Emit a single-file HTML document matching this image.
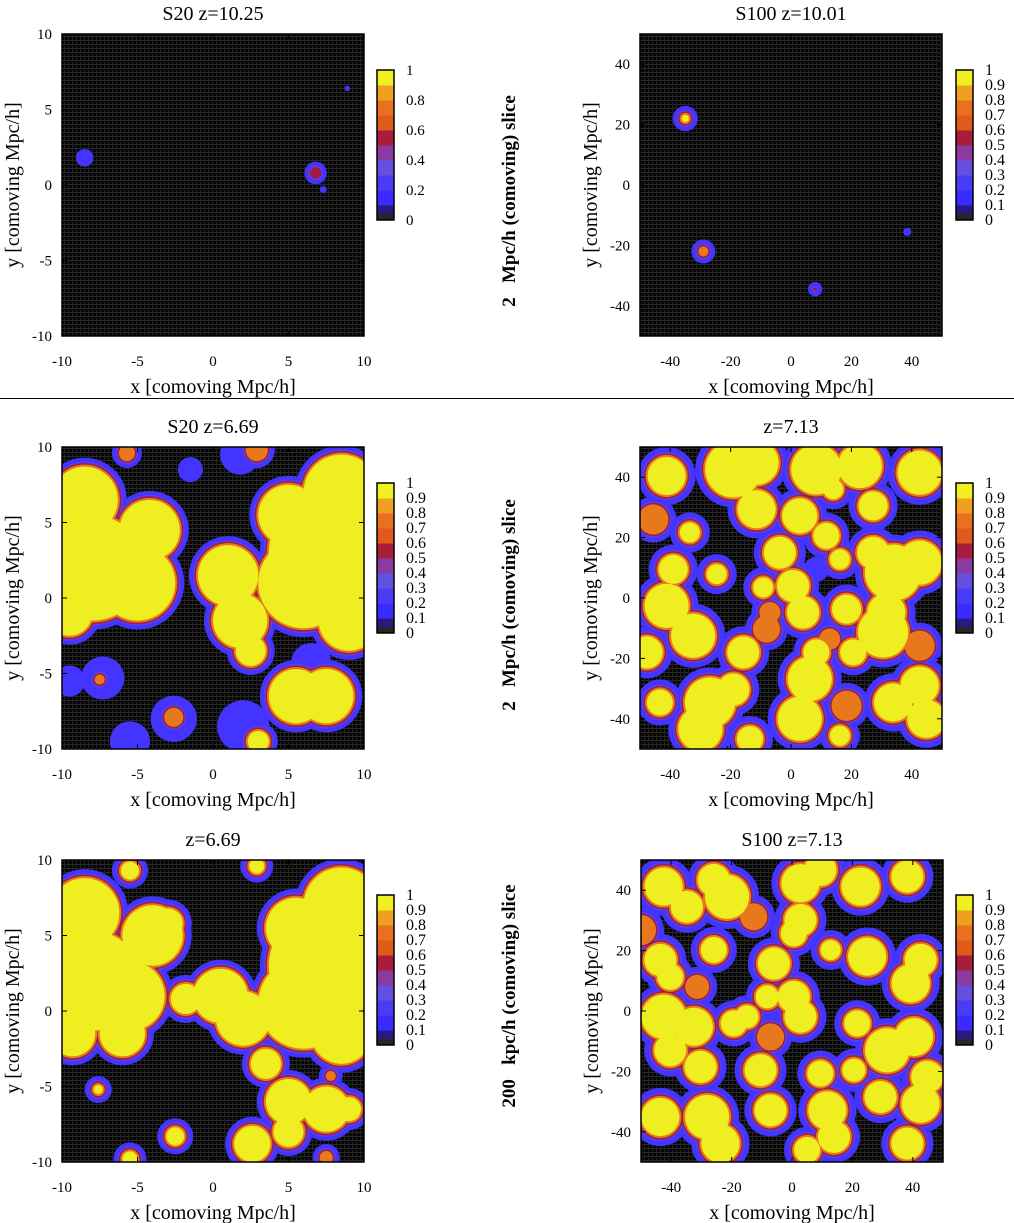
<!DOCTYPE html>
<html><head><meta charset="utf-8"><style>
html,body{margin:0;padding:0;background:#fff;}
svg{display:block;font-family:"Liberation Serif",serif;}
</style></head><body>
<svg id="fig" width="1014" height="1223" viewBox="0 0 1014 1223" xmlns="http://www.w3.org/2000/svg">
<defs>
<pattern id="grid" width="4" height="4" patternUnits="userSpaceOnUse">
<rect width="4" height="4" fill="#050505"/>
<rect x="0" y="0" width="4" height="1" fill="#2a2a2a"/>
<rect x="0" y="0" width="1" height="4" fill="#222"/>
</pattern>
</defs>
<line x1="0" y1="398.5" x2="1014" y2="398.5" stroke="#000" stroke-width="1"/>
<text transform="translate(515,201) rotate(-90)" text-anchor="middle" font-weight="bold" font-size="19" xml:space="preserve">2   Mpc/h (comoving) slice</text>
<text transform="translate(515,605) rotate(-90)" text-anchor="middle" font-weight="bold" font-size="19" xml:space="preserve">2   Mpc/h (comoving) slice</text>
<text transform="translate(515,996) rotate(-90)" text-anchor="middle" font-weight="bold" font-size="19" xml:space="preserve">200   kpc/h (comoving) slice</text>
</svg>
<script>
// ---- data: ionized bubbles (x, y, core radius, ionized fraction) ----
const s20TopX=[-8.5,6.8,7.3,8.9];
const s20TopY=[1.8,0.8,-0.3,6.4];
const s20TopR=[0.05,0.15,-0.3,-0.35];
const s20TopV=[0.25,0.55,0.2,0.2];

const s100TopX=[-35,-29,8,38.5];
const s100TopY=[22,-22,-34.5,-15.5];
const s100TopR=[1.2,1,-0.6,-1.3];
const s100TopV=[1,0.8,0.5,0.2];

const s20MidX=[-8,-5,-4.2,-8.5,-9.5,1,1.8,2.5,7.5,6,8.5,5,9,5.5,7.5,-7.3,-7.5,-2.6,-2.6,2,3,-5.7,2.9,-5.5,-9.5,6.5,1.8,-1.5];
const s20MidY=[2,1,4.5,6.5,-1,1.5,-1.5,-3.5,3,1,7,5.5,-1.5,-6.5,-6.5,-5.3,-5.4,-8,-7.9,-8.5,-9.5,9.6,9.8,-9.5,-5.5,-4.3,9.5,8.5];
const s20MidR=[3.5,2.5,2,2.2,1.5,2,1.8,1,3.8,3,2.5,2,2,1.8,1.8,0.9,0.2,1,0.5,1.2,0.7,0.4,0.6,0.8,0.5,0.8,0.8,0.3];
const s20MidV=[1,1,1,1,1,1,1,1,1,1,1,1,1,1,1,0.3,0.6,0.3,0.7,0.3,0.9,0.7,0.7,0.3,0.3,0.3,0.3,0.3];

const s20BotX=[-8,-5.5,-4,-8.5,-9.3,-6,-3,7.5,6,8.5,5.5,8.5,0.5,-1.8,2,3.5,2.9,-5.5,5,7.5,9,5,2.6,-7.6,-2.5,-5.5,7.5,7.8];
const s20BotY=[2,1,5,6.5,-1.5,-1.5,5.8,3,0.5,7,5.5,-1.5,1,0.8,-0.5,-3.5,9.6,9.3,-6,-6.5,-6.5,-8,-8.8,-5.2,-8.3,-9.8,-9.7,-4.3];
const s20BotR=[3.3,2.3,2,2.3,1.5,1.5,1,3.8,3,2.5,2,2,1.8,1,1.8,1,0.5,0.6,1.5,1.5,0.8,1,1.2,0.3,0.6,0.5,0.3,0.2];
const s20BotV=[1,1,1,1,1,1,1,1,1,1,1,1,1,1,1,1,1,1,1,1,1,1,1,0.9,0.9,0.9,0.8,0.6];

const s100MidX=[-19.1,-11.4,-41.2,8.4,22.8,42.6,-11.4,2.9,27.2,14,-45.6,-33.5,11.7,-3.7,0.7,4,-39,-24.6,-9.2,16.2,33.8,42.6,27.2,18.4,30.5,31.6,-41.2,-32.4,-47.8,-15.8,-26.8,-30,-19.1,-43.4,6.2,2.9,8.4,20.6,33.8,42.6,44.8,42.6,-8.1,-7,12.8,18.4,-13.6,16.2,8.4];
const s100MidY=[42.6,44.8,40.4,42.6,43.7,41.5,29.4,27.2,30.5,36,26,21.7,20.6,15,4,-4.8,9.5,7.9,3.5,12.8,8.4,11.7,15,-3.7,-11.4,-4.8,-2.6,-12.5,-18,-18,-34.6,-43.4,-30.3,-34.6,-26.8,-40,-18,-18,-34.6,-29,-40,-15.8,-10.3,-4.8,-13.6,-35.7,-46.7,-45.6,9.5];
const s100MidR=[8,6,5,7,6,6,5,4.5,3.5,2,3,2,3,4,4,4,3.5,2,2,2,8,6,4,3.5,7,5,6,6,4,4,7,6,4,3,6,6,3,3,5,5,5,3,2.5,1.5,1.5,3,3,2,1.5];
const s100MidV=[1,1,1,1,1,1,1,1,1,1,0.8,1,1,1,1,1,1,1,1,1,1,1,1,1,1,1,1,1,1,1,1,1,1,1,1,1,1,1,1,1,1,0.8,0.75,0.75,0.75,0.75,1,1,0.3];

const s100BotX=[-42.5,-34.8,-21.5,-25.9,2.8,9.4,22.7,38.2,2.8,0.6,-12.7,-25.9,-43.6,-40.3,-6,12.8,24.9,39.3,42.6,0.6,2.8,-8.2,-31.4,-42.5,-32.5,-40.3,-30.3,-19.3,-14.9,-7.1,-10.4,9.4,21.6,31.5,40.4,44.8,20.5,-43.6,-28.1,-23.7,-7.1,11.7,13.9,29.3,42.6,38.2,5,-50];
const s100BotY=[41.2,34.5,37.8,43.4,42.3,46.7,41.2,44.5,30.1,25.7,31.2,20.2,16.9,11.3,15.7,20.2,18,9.1,16.9,4.7,-1.9,4.7,8,-1.9,-5.2,-13,-18.5,-4.1,-1.9,-8.6,-19.6,-20.7,-4.1,-13,-8.6,-21.8,-19.6,-35.1,-35.1,-43.9,-32.9,-32.9,-41.7,-28.5,-30.7,-43.9,-46,26.8];
const s100BotR=[5,4,6,4,5,4,5,4,4,3,2.5,3,4,3,4,2,5,5,4,4,4,2.5,2,6,5,4,4,3,2.5,2.5,4,3,3,6,5,4,2.5,5,6,5,4,5,4,4,5,4,3,3];
const s100BotV=[1,1,1,1,1,1,1,1,1,1,0.75,1,1,1,1,1,1,1,1,1,1,1,0.75,1,1,1,1,1,1,0.75,1,1,1,1,1,1,1,1,1,1,1,1,1,1,1,1,1,0.75];

const s20Ticks=[-10,-5,0,5,10];
const s100Ticks=[-40,-20,0,20,40];
const cbLabels6=["0","0.2","0.4","0.6","0.8","1"];
const cbLabels11=["0","0.1","0.2","0.3","0.4","0.5","0.6","0.7","0.8","0.9","1"];

const NS="http://www.w3.org/2000/svg";
const svg=document.getElementById('fig');
function mk(tag,attrs,parent){const e=document.createElementNS(NS,tag);for(const k in attrs)e.setAttribute(k,attrs[k]);(parent||svg).appendChild(e);return e;}

const bandColors=["#2a1a80","#3a2cff","#4a3cf4","#6450e0","#8a3aa0","#a81c3c","#e05a1c","#e8701e","#f0a020","#f0f020"];

function panel(cfg){
  const g=mk('g',{});
  
  
  const L=cfg.left,T=cfg.top,S=302;
  const sx=v=>L+(v-cfg.min)/(cfg.max-cfg.min)*S;
  const sy=v=>T+S-(v-cfg.min)/(cfg.max-cfg.min)*S;
  const scale=S/(cfg.max-cfg.min);
  const grow=cfg.grow||0, blueOff=cfg.blueOff||9;
  const cid='clip'+cfg.name;
  const cp=mk('clipPath',{id:cid},g);
  mk('rect',{x:L,y:T,width:S,height:S},cp);
  const bg=mk('rect',{x:L,y:T,width:S,height:S,fill:'url(#grid)'},g);
  
  
  const hm=mk('g',{'clip-path':'url(#'+cid+')'},g);
  
  
  const X=cfg.xs,Y=cfg.ys,R=cfg.rs,V=cfg.vs;
  const layers=[
    {off:blueOff,col:'#4434ff',need:0},
    {off:5,col:'#5a40e8',need:0.45},
    {off:3.5,col:'#a01c40',need:0.45},
    {off:2,col:'#e8781c',need:0.6},
    {off:0,col:'#eeee20',need:0.9}
  ];
  layers.forEach((ly,li)=>{
    for(let i=0;i<X.length;i++){
      if(V[i]<ly.need) continue;
      let rad=R[i]*scale+ly.off+(R[i]>0.5?grow:0);
      if(li===0&&V[i]<0.45) rad=R[i]*scale+8;
      if(rad<=0) continue;
      const c=mk('circle',{cx:sx(X[i]),cy:sy(Y[i]),r:rad,fill:ly.col},hm);
      
      
    }
  });
  const fr=mk('rect',{x:L,y:T,width:S,height:S,fill:'none',stroke:'#000','stroke-width':1.5},g);
  
  
  cfg.ticks.forEach(t=>{
    mk('line',{x1:sx(t),y1:T+S,x2:sx(t),y2:T+S-5,stroke:'#000'},g);
    mk('line',{x1:sx(t),y1:T,x2:sx(t),y2:T+5,stroke:'#000'},g);
    mk('line',{x1:L,y1:sy(t),x2:L+5,y2:sy(t),stroke:'#000'},g);
    mk('line',{x1:L+S,y1:sy(t),x2:L+S-5,y2:sy(t),stroke:'#000'},g);
    const xt=mk('text',{x:sx(t),y:T+S+30,'text-anchor':'middle','font-size':15},g);
    xt.textContent=String(t);
    
    
    const yt=mk('text',{x:L-10,y:sy(t)+5,'text-anchor':'end','font-size':15},g);
    yt.textContent=String(t);
    
    
  });
  const ti=mk('text',{x:L+S/2,y:T-14,'text-anchor':'middle','font-size':20},g);
  ti.textContent=cfg.title;
  
  
  const xa=mk('text',{x:L+S/2,y:T+S+57,'text-anchor':'middle','font-size':20},g);
  xa.textContent='x [comoving Mpc/h]';
  
  
  const ya=mk('text',{transform:'translate('+(L-43)+','+(T+S/2)+') rotate(-90)','text-anchor':'middle','font-size':20},g);
  ya.textContent='y [comoving Mpc/h]';
  
  
  const cb=mk('g',{},g);
  
  
  const cx=cfg.cbx,cy=cfg.cby,cw=17,ch=150;
  for(let b=0;b<10;b++){
    const y0=cy+ch-(b+1)*ch/10;
    mk('rect',{x:cx,y:y0,width:cw,height:ch/10+0.5,fill:bandColors[b]},cb);
    mk('line',{x1:cx,y1:y0,x2:cx+cw,y2:y0,stroke:'#111','stroke-width':1},cb);
  }
  mk('rect',{x:cx,y:cy+ch-6,width:cw,height:6,fill:'#262626'},cb);
  mk('rect',{x:cx,y:cy,width:cw,height:ch,fill:'none',stroke:'#000','stroke-width':1.5},cb);
  const labs=cfg.cbLabels;
  labs.forEach((lb,i)=>{
    const yy=cy+ch-i*ch/(labs.length-1);
    const t=mk('text',{x:cx+cw+12,y:yy+5,'font-size':labs.length>6?16:15},cb);
    t.textContent=lb;
    
    
  });
}

panel({name:'panel-s20-z10',left:62,top:34,min:-10,max:10,ticks:s20Ticks,title:'S20 z=10.25',xs:s20TopX,ys:s20TopY,rs:s20TopR,vs:s20TopV,cbx:377,cby:70,cbLabels:cbLabels6});
panel({name:'panel-s100-z10',left:640,top:34,min:-50,max:50,ticks:s100Ticks,title:'S100 z=10.01',xs:s100TopX,ys:s100TopY,rs:s100TopR,vs:s100TopV,cbx:956,cby:70,cbLabels:cbLabels11});
panel({name:'panel-s20-z6',left:62,top:447,min:-10,max:10,ticks:s20Ticks,title:'S20 z=6.69',xs:s20MidX,ys:s20MidY,rs:s20MidR,vs:s20MidV,cbx:377,cby:483,cbLabels:cbLabels11});
panel({name:'panel-s100-z7',left:640,top:447,min:-50,max:50,ticks:s100Ticks,title:'z=7.13',xs:s100MidX,ys:s100MidY,rs:s100MidR,vs:s100MidV,cbx:956,cby:483,cbLabels:cbLabels11,grow:4,blueOff:10});
panel({name:'panel-s20-z6-thin',left:62,top:860,min:-10,max:10,ticks:s20Ticks,title:'z=6.69',xs:s20BotX,ys:s20BotY,rs:s20BotR,vs:s20BotV,cbx:377,cby:895,cbLabels:cbLabels11});
panel({name:'panel-s100-z7-thin',left:641,top:860,min:-50,max:50,ticks:s100Ticks,title:'S100 z=7.13',xs:s100BotX,ys:s100BotY,rs:s100BotR,vs:s100BotV,cbx:956,cby:895,cbLabels:cbLabels11,grow:4,blueOff:10});
</script>
</body></html>
